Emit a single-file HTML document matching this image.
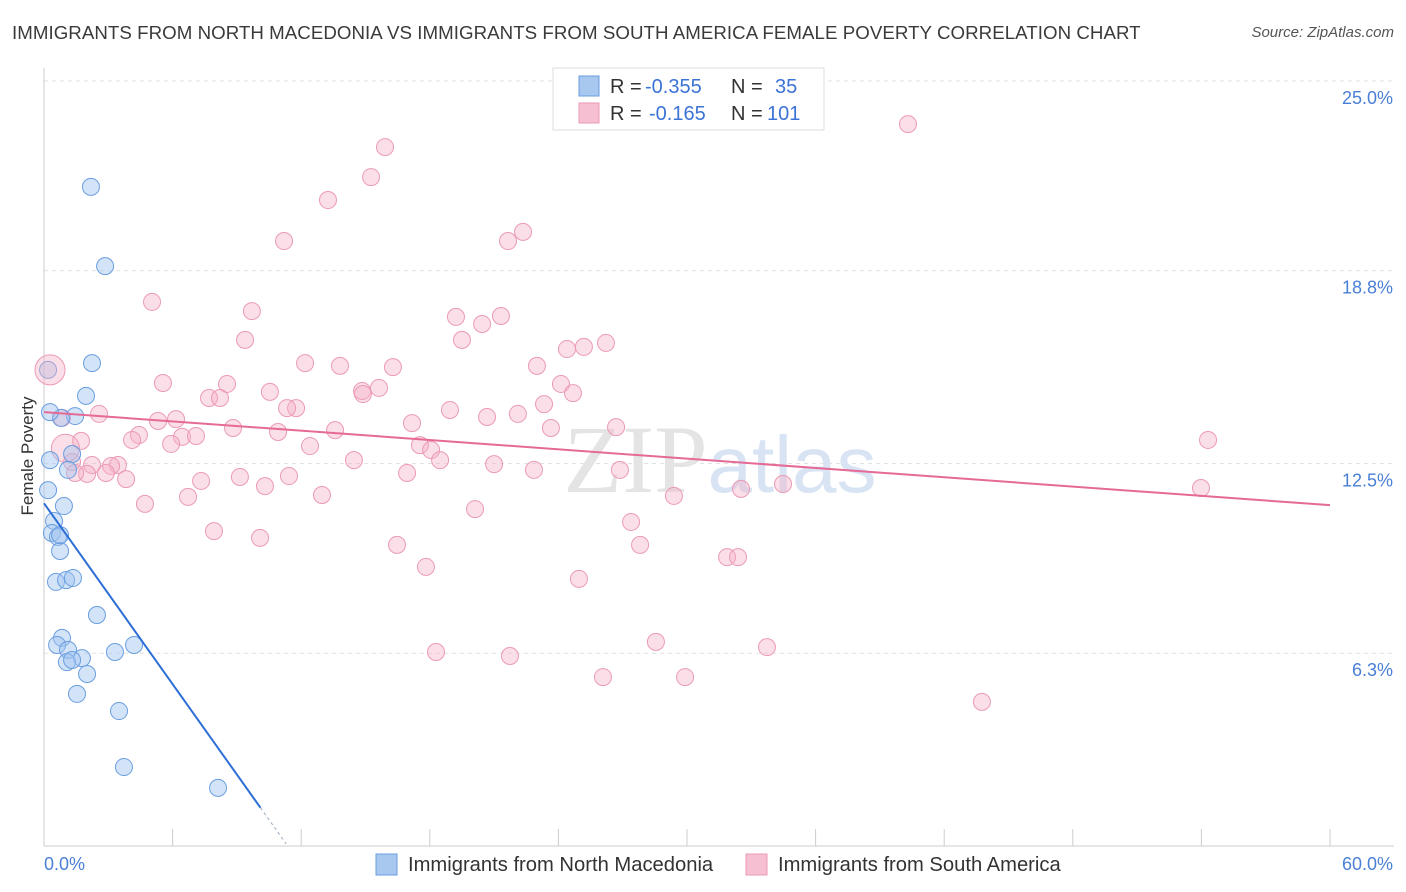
<!DOCTYPE html>
<html><head><meta charset="utf-8">
<style>
body{margin:0;background:#fff;font-family:"Liberation Sans",sans-serif;}
#wrap{position:relative;width:1406px;height:892px;overflow:hidden;}
.title{position:absolute;left:12px;top:22px;font-size:18.7px;color:#3a3a3a;letter-spacing:0.05px;}
.source{position:absolute;right:12px;top:24px;font-size:15px;color:#555;font-style:italic;}
</style></head><body>
<div id="wrap">
<div class="title">IMMIGRANTS FROM NORTH MACEDONIA VS IMMIGRANTS FROM SOUTH AMERICA FEMALE POVERTY CORRELATION CHART</div>
<div class="source">Source: ZipAtlas.com</div>
<svg id="svg" width="1406" height="892" style="position:absolute;left:0;top:0"></svg>
</div>
<script>
const blueX=[2.19,2.85,2.24,1.96,0.19,1.45,0.79,0.28,1.31,1.12,0.93,0.47,0.37,0.65,0.75,0.56,1.03,1.35,2.47,0.84,0.61,1.12,1.77,1.07,1.31,2.01,1.54,3.5,3.31,4.2,3.73,8.12,0.19,0.28,0.75];
const blueY=[21.54,18.95,15.78,14.71,15.56,14.05,13.99,12.61,12.81,12.29,11.11,10.62,10.23,10.1,9.64,8.63,8.69,8.76,7.55,6.8,6.57,6.41,6.14,6.01,6.08,5.62,4.97,4.41,6.34,6.57,2.58,1.9,11.63,14.18,10.16];
const pinkX=[40.31,15.91,15.26,13.25,22.35,21.65,11.2,5.04,9.7,19.22,21.32,20.44,19.5,9.38,24.4,25.19,26.22,12.18,13.81,16.28,23.0,5.55,8.54,15.63,14.84,14.88,24.12,24.68,10.54,7.7,8.21,18.94,20.67,22.11,23.33,11.76,11.34,2.57,5.32,6.16,0.84,17.17,26.69,8.82,23.65,10.92,13.58,4.43,4.11,6.44,7.09,5.93,1.73,17.54,18.06,12.41,18.48,14.46,54.31,1.31,2.24,3.45,3.13,2.01,2.89,1.45,3.83,21.0,22.86,26.87,9.14,11.43,16.94,7.33,10.31,6.72,12.97,29.39,32.52,34.48,4.71,20.11,53.98,27.39,7.93,10.08,16.47,27.81,31.87,32.38,17.82,24.96,28.55,33.73,18.29,21.74,26.08,29.91,43.76,1.0];
const pinkY=[23.59,22.84,21.86,21.11,20.07,19.77,19.77,17.78,17.48,17.29,17.32,17.06,16.54,16.54,16.24,16.31,16.44,15.78,15.69,15.65,15.69,15.13,15.1,14.97,14.87,14.77,15.1,14.8,14.84,14.64,14.64,14.25,14.02,14.12,14.44,14.31,14.31,14.12,13.89,13.95,13.99,13.82,13.69,13.66,13.66,13.53,13.59,13.43,13.27,13.37,13.4,13.14,13.24,13.1,12.94,13.07,12.61,12.61,13.27,12.55,12.45,12.45,12.42,12.16,12.19,12.19,11.99,12.48,12.29,12.29,12.06,12.09,12.19,11.93,11.76,11.41,11.47,11.44,11.67,11.83,11.18,11.01,11.7,10.59,10.29,10.07,9.84,9.84,9.44,9.44,9.12,8.73,6.67,6.5,6.34,6.21,5.52,5.52,4.71,13.0];
const yTicks=[6.3,12.5,18.8,25.0];
const yTickLabels=["6.3%","12.5%","18.8%","25.0%"];
const blueTrend=[11.2,-0.985];
const pinkTrend=[14.18,-0.0507];
const X=v=>44+v*1286/60, Y=v=>846-v*30.6;
const svg=document.getElementById('svg');const NS='http://www.w3.org/2000/svg';
function el(t,a,p){const e=document.createElementNS(NS,t);for(const k in a)e.setAttribute(k,a[k]);(p||svg).appendChild(e);return e;}
yTicks.forEach((t,i)=>{
 const g=el('line',{x1:44,x2:1394,y1:Y(t),y2:Y(t),stroke:'#e2e2e2','stroke-dasharray':'4,4'});
 
 const tx=el('text',{x:1393,y:Y(t)+23,'text-anchor':'end','font-size':18,fill:'#4a7fd6','font-family':'Liberation Sans'});
 tx.textContent=yTickLabels[i];
 
});
let a=el('line',{x1:44,x2:44,y1:68,y2:846,stroke:'#ccc'});
a=el('line',{x1:44,x2:1394,y1:846,y2:846,stroke:'#ccc'});
for(let i=0;i<=10;i++){const t=el('line',{x1:X(i*6),x2:X(i*6),y1:829,y2:846,stroke:'#ccc'});}
[['0.0%',44,'start'],['60.0%',1393,'end']].forEach(d=>{const t=el('text',{x:d[1],y:870,'text-anchor':d[2],'font-size':18,fill:'#4a7fd6','font-family':'Liberation Sans'});t.textContent=d[0];});
let yt=el('text',{x:0,y:0,transform:'translate(33,456) rotate(-90)','text-anchor':'middle','font-size':17,fill:'#333','font-family':'Liberation Sans'});yt.textContent='Female Poverty';
let w=el('text',{x:720,y:492,'text-anchor':'middle','font-size':96,'font-family':'Liberation Serif',fill:'#e4e4e4'});w.innerHTML='ZIP<tspan fill="#d8e4f4" font-family="Liberation Sans" font-size="80">atlas</tspan>';
pinkX.forEach((x,i)=>{const r=i===pinkX.length-1?14:8.5;const c=el('circle',{cx:X(x),cy:Y(pinkY[i]),r:r,fill:'rgba(245,175,198,0.4)',stroke:'#eb9ab5','stroke-width':1});});
blueX.forEach((x,i)=>{const c=el('circle',{cx:X(x),cy:Y(blueY[i]),r:8.5,fill:'rgba(160,196,240,0.45)',stroke:'#6a9ee0','stroke-width':1});});
let big=el('circle',{cx:X(0.28),cy:Y(15.56),r:15,fill:'rgba(245,175,198,0.4)',stroke:'#eb9ab5'});
let l=el('line',{x1:X(0),y1:Y(blueTrend[0]),x2:X(10.1),y2:Y(blueTrend[0]+blueTrend[1]*10.1),stroke:'#2d6fd6','stroke-width':2});
l=el('line',{x1:X(10.1),y1:Y(blueTrend[0]+blueTrend[1]*10.1),x2:X(11.3),y2:Y(blueTrend[0]+blueTrend[1]*11.3),stroke:'#9ab','stroke-width':1,'stroke-dasharray':'3,3'});
l=el('line',{x1:X(0),y1:Y(pinkTrend[0]),x2:X(60),y2:Y(pinkTrend[0]+pinkTrend[1]*60),stroke:'#e56a95','stroke-width':2});
let lb=el('rect',{x:553,y:68,width:271,height:62,fill:'#fff',stroke:'#ddd'});
[[86,'#a8c8f0','#6a9ee0','-0.355','35',775],[113,'#f7c0d2','#eb9ab5','-0.165','101',767]].forEach(d=>{
 const r=el('rect',{x:579,y:d[0]-10,width:20,height:20,fill:d[1],stroke:d[2]});
 const t=el('text',{x:610,y:d[0]+7,'font-size':20,fill:'#333','font-family':'Liberation Sans'});
 t.innerHTML='R = <tspan x="'+(d[3]==='-0.355'?645:649)+'" fill="#3b73d6">'+d[3]+'</tspan><tspan x="731">N = </tspan><tspan x="'+d[5]+'" fill="#3b73d6">'+d[4]+'</tspan>';
 
});
[[376,'#a8c8f0','#6a9ee0','Immigrants from North Macedonia'],[746,'#f7c0d2','#eb9ab5','Immigrants from South America']].forEach(d=>{
 const r=el('rect',{x:d[0],y:854,width:21,height:21,fill:d[1],stroke:d[2]});
 const t=el('text',{x:d[0]+32,y:871,'font-size':20.2,fill:'#333','font-family':'Liberation Sans'});t.textContent=d[3];
});
</script>
</body></html>
